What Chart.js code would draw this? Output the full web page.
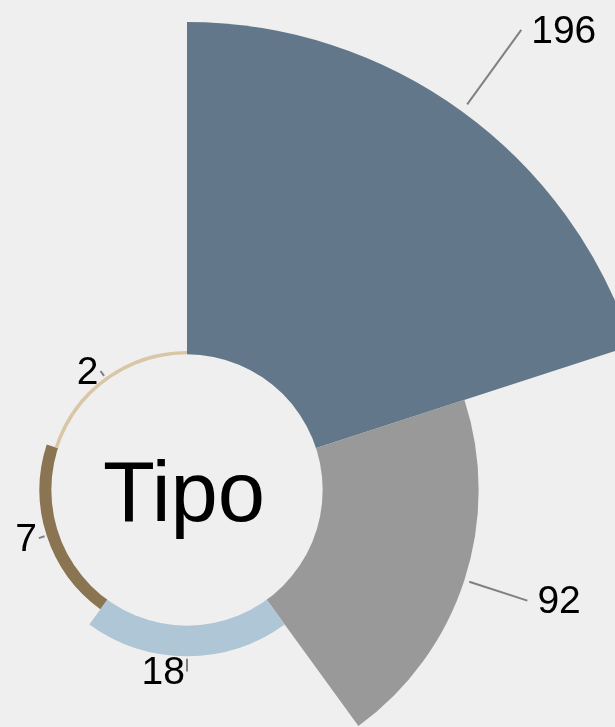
<!DOCTYPE html>
<html>
<head>
<meta charset="utf-8">
<script src="https://cdn.jsdelivr.net/npm/chart.js@4/dist/chart.umd.min.js"></script>
<style>
  html, body { margin: 0; padding: 0; background: #efefef; }
  #wrap { width: 615px; height: 727px; position: relative; }
</style>
</head>
<body>
<div id="wrap"><canvas id="grafico"></canvas></div>
<script>
const categorias = ['A', 'B', 'C', 'D', 'E'];
const valores = [196, 92, 18, 7, 2];
const cores = ['#627789', '#999999', '#aec6d6', '#8b7452', '#d9c6a7'];
const titulo = 'Tipo';

const fundo = '#efefef';

// circulo central + rotulos com linhas
const rotulos = {
    id: 'rotulos',
    afterDatasetsDraw(chart) {
        const ctx = chart.ctx;
        const scale = chart.scales.r;
        const raioInterno = scale.getDistanceFromCenterForValue(0);
        const cx = scale.xCenter, cy = scale.yCenter;

        ctx.save();
        ctx.fillStyle = fundo;
        ctx.beginPath();
        ctx.arc(cx, cy, raioInterno, 0, Math.PI * 2);
        ctx.fill();

        const tam = 85;
        ctx.fillStyle = '#000';
        ctx.font = tam + 'px "Liberation Sans", Arial, sans-serif';
        ctx.textAlign = 'center';
        ctx.textBaseline = 'alphabetic';
        ctx.fillText(titulo, cx - 3, cy + tam * 0.729 / 2);

        const meta = chart.getDatasetMeta(0);
        ctx.font = '39px "Liberation Sans", Arial, sans-serif';
        ctx.textBaseline = 'middle';
        meta.data.forEach((arc, i) => {
            const v = valores[i];
            const a = (arc.startAngle + arc.endAngle) / 2;
            const fora = arc.outerRadius;
            const gap = 0.02 * (fora - raioInterno) + 2;
            const len = Math.max(6, Math.min(0.7 * v, 7 * Math.sqrt(v) - 6));
            const r1 = fora + gap, r2 = fora + gap + len;
            const x1 = cx + Math.cos(a) * r1, y1 = cy + Math.sin(a) * r1;
            const x2 = cx + Math.cos(a) * r2, y2 = cy + Math.sin(a) * r2;
            ctx.strokeStyle = '#808080';
            ctx.lineWidth = 2;
            ctx.beginPath();
            ctx.moveTo(x1, y1);
            ctx.lineTo(x2, y2);
            ctx.stroke();
            const direita = Math.cos(a) > 0.01;
            ctx.textAlign = direita ? 'left' : 'right';
            ctx.fillText(String(v), x2 + (direita ? 10 : -2), y2 + 2);
        });
        ctx.restore();
    }
};

new Chart(document.getElementById('grafico'), {
    type: 'polarArea',
    data: {
        labels: categorias,
        datasets: [{
            data: valores,
            backgroundColor: cores,
            borderWidth: 0
        }]
    },
    options: {
        responsive: true,
        maintainAspectRatio: false,
        animation: false,
        layout: { padding: 0 },
        plugins: {
            legend: { display: false },
            tooltip: { enabled: false }
        },
        scales: {
            r: {
                min: -80,
                max: 196,
                grid: { display: false },
                angleLines: { display: false },
                pointLabels: { display: false },
                ticks: { display: false },
                afterFit: s => {
                    s.xCenter = 187;
                    s.yCenter = 490;
                    s.drawingArea = 468;
                }
            }
        }
    },
    plugins: [rotulos]
});
</script>
</body>
</html>
